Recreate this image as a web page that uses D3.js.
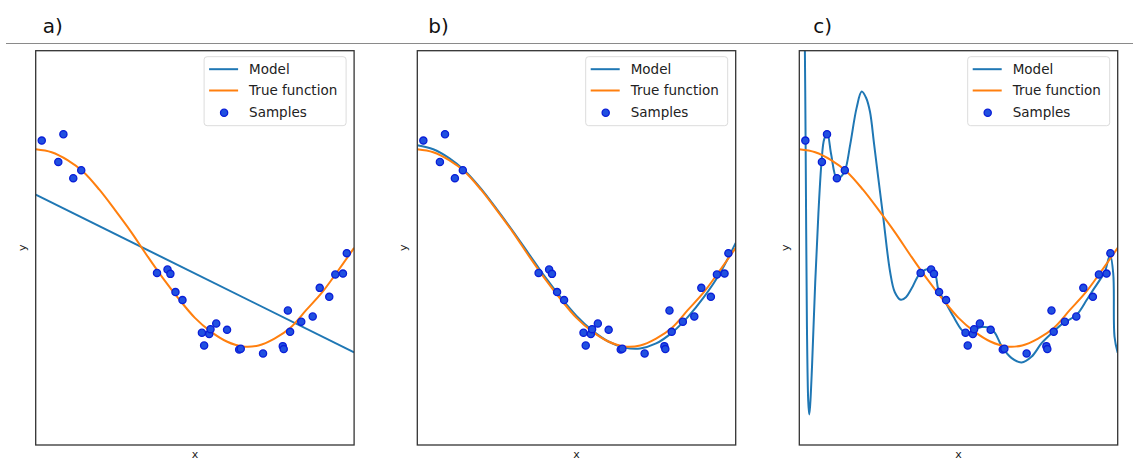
<!DOCTYPE html>
<html>
<head>
<meta charset="utf-8">
<script src="https://cdn.jsdelivr.net/npm/d3@7"></script>
<style>
  body { margin: 0; background: #fff; }
  text { font-family: "DejaVu Sans", sans-serif; }
</style>
</head>
<body>
<div id="chart"></div>
<script>
// Size of page
var width = 1133,
    height = 461;

// Panel labels
var panelLabels = ["a)", "b)", "c)"];

// Samples (same in every panel)
var sampleX = [0.019, 0.071, 0.087, 0.118, 0.143, 0.381, 0.414, 0.423, 0.439, 0.461,
               0.522, 0.529, 0.545, 0.549, 0.567, 0.601, 0.639, 0.644, 0.714, 0.776,
               0.779, 0.792, 0.799, 0.834, 0.870, 0.892, 0.922, 0.941, 0.965, 0.977];
var sampleY = [1.088, 0.872, 1.153, 0.707, 0.788, -0.254, -0.220, -0.264, -0.449, -0.530,
               -0.862, -0.991, -0.875, -0.825, -0.768, -0.832, -1.031, -1.024, -1.072, -0.997,
               -1.027, -0.636, -0.852, -0.750, -0.697, -0.406, -0.497, -0.271, -0.261, -0.054];

// True function
var trueX = [0, 0.05, 0.1, 0.15, 0.2, 0.25, 0.3, 0.35, 0.4, 0.45, 0.5,
             0.55, 0.6, 0.65, 0.7, 0.75, 0.8, 0.85, 0.9, 0.95, 1];
var trueY = [1.0, 0.97, 0.89, 0.77, 0.59, 0.38, 0.16, -0.08, -0.31, -0.52, -0.71,
             -0.85, -0.95, -1.0, -0.99, -0.92, -0.81, -0.63, -0.45, -0.23, 0.0];

// Model a) straight line
var modelAX = [0, 1];
var modelAY = [0.54, -1.06];

// Model b)
var modelBX = [0, 0.05, 0.1, 0.15, 0.2, 0.25, 0.3, 0.35, 0.4, 0.45, 0.5,
               0.55, 0.6, 0.65, 0.7, 0.75, 0.8, 0.85, 0.9, 0.95, 1];
var modelBY = [1.04, 1.0, 0.91, 0.78, 0.60, 0.39, 0.17, -0.06, -0.29, -0.50, -0.69,
               -0.84, -0.95, -1.01, -1.02, -0.97, -0.86, -0.70, -0.50, -0.26, 0.05];

// Model c)
var modelCX = [0, 0.01, 0.017, 0.02, 0.024, 0.028, 0.031, 0.034, 0.04, 0.05, 0.06, 0.07,
               0.078, 0.088, 0.1, 0.117, 0.13, 0.144, 0.16, 0.18, 0.196, 0.21, 0.222,
               0.235, 0.248, 0.264, 0.285, 0.3, 0.319, 0.335, 0.353, 0.38, 0.41, 0.426,
               0.437, 0.458, 0.484, 0.51, 0.526, 0.546, 0.573, 0.599, 0.615, 0.636,
               0.667, 0.698, 0.73, 0.761, 0.793, 0.829, 0.871, 0.903, 0.923, 0.944,
               0.96, 0.976, 0.986, 0.99, 1];
var modelCY = [8, 4, 2.2, 1.0, -0.8, -1.55, -1.69, -1.6, -1.2, -0.35, 0.35, 0.88,
               1.1, 1.16, 0.95, 0.71, 0.72, 0.79, 1.05, 1.42, 1.585, 1.52, 1.38,
               1.05, 0.71, 0.30, -0.24, -0.45, -0.527, -0.5, -0.41, -0.257, -0.216, -0.257,
               -0.426, -0.545, -0.697, -0.832, -0.872, -0.839, -0.804, -0.814, -0.865, -1.0,
               -1.119, -1.163, -1.102, -0.967, -0.865, -0.764, -0.68, -0.527, -0.426, -0.325,
               -0.24, -0.07, -0.26, -0.9, -1.065];

var models = [
  { x: modelAX, y: modelAY },
  { x: modelBX, y: modelBY },
  { x: modelCX, y: modelCY }
];

// Layout
var panelLeft = [35.7, 417.3, 799.3],
    panelTop = 50.7,
    panelW = 318.4,
    panelH = 394.3;

var svg = d3.select("#chart")
            .append("svg")
             .attr("width", width)
             .attr("height", height);

// Rule under the labels
svg.append("line")
   .attr("x1", 6).attr("x2", width)
   .attr("y1", 43.5).attr("y2", 43.5)
   .attr("stroke", "#8a8a8a")
   .attr("stroke-width", 1.2);

var scaleX = d3.scaleLinear().domain([0, 1]).range([0, panelW]);
var scaleY = d3.scaleLinear().domain([-2, 2]).range([panelH, 0]);

function zip(xs, ys) {
  return xs.map(function(d, i) { return [d, ys[i]]; });
}

var line = d3.line()
             .x(function(d) { return scaleX(d[0]); })
             .y(function(d) { return scaleY(d[1]); })
             .curve(d3.curveCatmullRom.alpha(0.5));

panelLabels.forEach(function(lab, p) {
  var g = svg.append("g")
             .attr("transform", "translate(" + panelLeft[p] + "," + panelTop + ")");

  // panel label
  svg.append("text")
     .attr("x", panelLeft[p] + 7 + (p === 1 ? 4 : 0) + (p === 2 ? 7 : 0))
     .attr("y", 33)
     .attr("font-family", "Open Sans, sans-serif")
     .attr("font-size", 20)
     .attr("fill", "#111")
     .text(lab);

  g.append("clipPath")
   .attr("id", "clip" + p)
   .append("rect")
    .attr("width", panelW).attr("height", panelH);

  var plot = g.append("g").attr("clip-path", "url(#clip" + p + ")");

  plot.append("path")
      .datum(zip(models[p].x, models[p].y))
      .attr("d", line)
      .attr("fill", "none")
      .attr("stroke", "#1f77b4")
      .attr("stroke-width", 2);

  plot.append("path")
      .datum(zip(trueX, trueY))
      .attr("d", line)
      .attr("fill", "none")
      .attr("stroke", "#ff7f0e")
      .attr("stroke-width", 2);

  plot.selectAll(".dot")
      .data(zip(sampleX, sampleY))
      .enter()
      .append("circle")
       .attr("class", "dot")
       .attr("cx", function(d) { return scaleX(d[0]); })
       .attr("cy", function(d) { return scaleY(d[1]); })
       .attr("r", 3.6)
       .attr("fill", "#2050e0")
       .attr("stroke", "#0a1ed8")
       .attr("stroke-width", 1.3);

  // frame
  g.append("rect")
   .attr("width", panelW).attr("height", panelH)
   .attr("fill", "none")
   .attr("stroke", "#333")
   .attr("stroke-width", 1.3);

  // axis labels
  g.append("text")
   .attr("x", panelW / 2)
   .attr("y", panelH + 13)
   .attr("text-anchor", "middle")
   .attr("font-size", 11)
   .attr("fill", "#222")
   .text("x");

  g.append("text")
   .attr("transform", "translate(-10," + (panelH / 2) + ") rotate(-90)")
   .attr("text-anchor", "middle")
   .attr("font-size", 11)
   .attr("fill", "#222")
   .text("y");

  // legend
  var lg = g.append("g").attr("transform", "translate(" + (panelW - 150) + ",6)");
  lg.append("rect")
    .attr("width", 142).attr("height", 69)
    .attr("rx", 3)
    .attr("fill", "#fff")
    .attr("fill-opacity", 0.85)
    .attr("stroke", "#dcdcdc");

  var items = [
    { name: "Model", color: "#1f77b4", kind: "line" },
    { name: "True function", color: "#ff7f0e", kind: "line" },
    { name: "Samples", color: "#2050e0", kind: "dot" }
  ];
  items.forEach(function(it, i) {
    var yy = 12.5 + i * 21.3;
    if (it.kind === "line") {
      lg.append("line")
        .attr("x1", 5).attr("x2", 34)
        .attr("y1", yy).attr("y2", yy)
        .attr("stroke", it.color)
        .attr("stroke-width", 2);
    } else {
      lg.append("circle")
        .attr("cx", 20).attr("cy", yy + 1)
        .attr("r", 3.6)
        .attr("fill", it.color)
        .attr("stroke", "#0a1ed8")
        .attr("stroke-width", 1.3);
    }
    lg.append("text")
      .attr("x", 45)
      .attr("y", yy + 4.8)
      .attr("font-size", 13.5)
      .attr("fill", "#222")
      .text(it.name);
  });
});
</script>
</body>
</html>
